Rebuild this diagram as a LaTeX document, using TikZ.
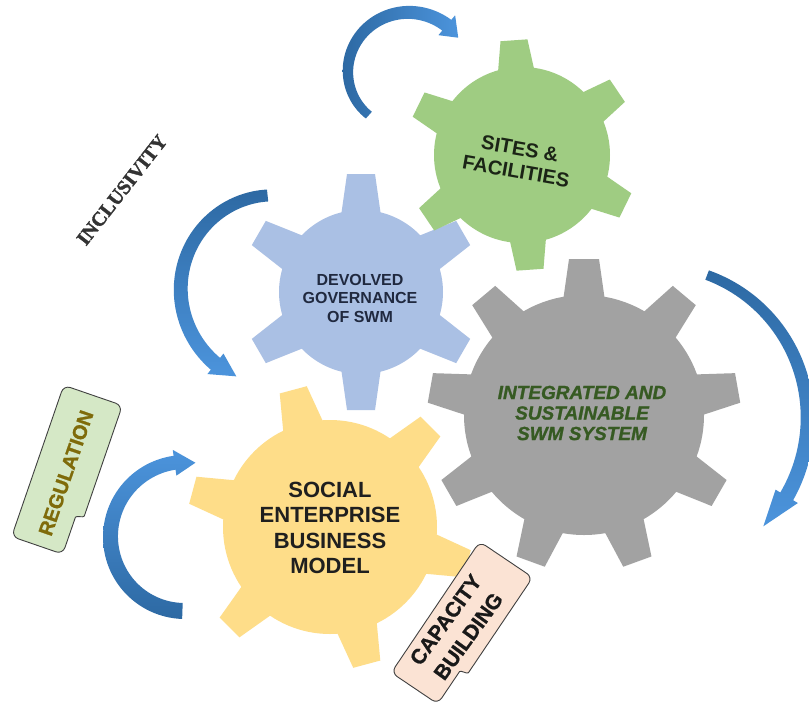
\documentclass[tikz,border=0pt]{standalone}
\usepackage{fontspec}
\setmainfont{Liberation Sans}
\newfontfamily\labelserif[FakeBold=1.6]{Liberation Serif Bold}
\newfontfamily\heavysans[FakeBold=1.0]{Liberation Sans Bold}
\newfontfamily\heavyitalic[FakeBold=1.2]{Liberation Sans Bold Italic}
\definecolor{gearGreen}{HTML}{9FCC82}
\definecolor{gearBlue}{HTML}{AAC0E4}
\definecolor{gearGray}{HTML}{A2A2A2}
\definecolor{gearGold}{HTML}{FEDD89}
\definecolor{arrowDark}{HTML}{2D69A3}
\definecolor{arrowLight}{HTML}{4C94DC}
\definecolor{txtGreen}{HTML}{365A22}
\definecolor{txtNavy}{HTML}{20293F}
\definecolor{txtDark}{HTML}{1B2416}
\definecolor{txtOlive}{HTML}{7F6B0A}
\definecolor{boxGreen}{HTML}{D5E8C6}
\definecolor{boxPeach}{HTML}{FBE3D4}

% gear: fill, cx, cy, teeth, first tooth angle, root radius, tip radius, tip width, base width
\newcommand\drawgear[9]{%
  \fill[#1] (#2,#3) circle[radius=#6];
  \foreach \k in {1,...,#4}{%
    \pgfmathsetmacro\toothang{#5+(\k-1)*360/#4}%
    \fill[#1,shift={(#2,#3)},rotate=\toothang]
      (#6-6,-#9/2) -- (#7,-#8/2) -- (#7,#8/2) -- (#6-6,#9/2) -- cycle;
  }%
}

% tapered curved arrow: shading, cx, cy, start angle, end angle,
% start radius, end radius, start width, end width (tip angle in \tipang)
\newcommand\headhw{13}
\newcommand\curvedarrow[9]{%
  \shade[#1]
    plot[domain=#4:#5, samples=60, variable=\t]
      ({#2+(#6+(#7-#6)*(\t-#4)/(#5-#4)+(#8+(#9-#8)*(\t-#4)/(#5-#4))/2)*cos(\t)},
       {#3-(#6+(#7-#6)*(\t-#4)/(#5-#4)+(#8+(#9-#8)*(\t-#4)/(#5-#4))/2)*sin(\t)})
    -- ({#2+(#7+\headhw)*cos(#5)},{#3-(#7+\headhw)*sin(#5)})
    -- ({#2+#7*cos(\tipang)},{#3-#7*sin(\tipang)})
    -- ({#2+(#7-\headhw)*cos(#5)},{#3-(#7-\headhw)*sin(#5)})
    -- plot[domain=#5:#4, samples=60, variable=\t]
      ({#2+(#6+(#7-#6)*(\t-#4)/(#5-#4)-(#8+(#9-#8)*(\t-#4)/(#5-#4))/2)*cos(\t)},
       {#3-(#6+(#7-#6)*(\t-#4)/(#5-#4)-(#8+(#9-#8)*(\t-#4)/(#5-#4))/2)*sin(\t)})
    -- cycle;
}

% label tag with a small step on its lower edge: cx, cy, angle, half length, half width, fill
\newcommand\tagbox[6]{%
  \filldraw[fill=#6, draw=black!75, line width=0.9pt, rounded corners=7pt,
            shift={(#1,#2)}, rotate=#3]
    (-#4,-#5) -- (#4,-#5) -- (#4,#5) -- (-#4+50,#5)
    .. controls (-#4+41,#5) and (-#4+41,#5-8) .. (-#4+32,#5-8)
    -- (-#4,#5-8) -- cycle;
}

\tikzset{
  gearlabel/.style={align=center, inner sep=0pt},
}

\begin{document}
\begin{tikzpicture}[x=1pt, y=-1pt]
  \fill[white] (0,0) rectangle (809,705);
  \useasboundingbox (0,0) rectangle (809,705);

  % gears
  \drawgear{gearGold}{330}{527}{6}{105}{107}{142}{28}{42}
  \drawgear{gearBlue}{361}{292}{6}{90}{82}{118}{28}{40}
  \drawgear{gearGray}{584}{415}{9}{90}{120}{156}{30}{42}
  \drawgear{gearGreen}{522}{155}{6}{94}{88}{115}{27}{37}

  % rotation arrows
  \def\tipang{35}
  \curvedarrow{left color=arrowDark, right color=arrowLight}{405}{75}{228}{50}{54}{65}{9}{14}
  \def\tipang{246}
  \curvedarrow{top color=arrowDark, bottom color=arrowLight}{277}{285}{96}{232}{90}{100}{12}{15}
  \def\tipang{82}
  \curvedarrow{bottom color=arrowDark, top color=arrowLight}{185}{537}{268}{98}{74}{75}{16}{14}
  \def\tipang{-45}
  \curvedarrow{top color=arrowDark, bottom color=arrowLight}{653}{416}{69}{-31}{151}{156}{10}{15}

  % gear labels
  \node[gearlabel, text=txtDark, rotate=-10,
        font=\bfseries\fontsize{20}{23}\selectfont] (sites) at (518,160) {SITES \&\\FACILITIES};
  \node[gearlabel, text=txtNavy,
        font=\bfseries\fontsize{16}{18.5}\selectfont] (devolved) at (360,298) {DEVOLVED\\GOVERNANCE\\OF SWM};
  \node[gearlabel, text=txtGreen,
        font=\heavyitalic\fontsize{19}{20.5}\selectfont] (system) at (582,413) {INTEGRATED AND\\SUSTAINABLE\\SWM SYSTEM};
  \node[gearlabel, text=black!88,
        font=\bfseries\fontsize{22}{25.5}\selectfont] (social) at (330,528) {SOCIAL\\ENTERPRISE\\BUSINESS\\MODEL};

  % side labels
  \node[text=black!80, rotate=52, inner sep=0pt,
        font=\labelserif\fontsize{20}{22}\selectfont] (incl) at (122,190) {INCLUSIVITY};

  \tagbox{67}{471}{71}{80}{31}{boxGreen}
  \node[text=txtOlive, rotate=71, inner sep=0pt,
        font=\heavysans\fontsize{20}{22}\selectfont] (reg) at (66,473) {REGULATION};

  \tagbox{462}{625}{56}{79}{32}{boxPeach}
  \node[gearlabel, text=black!90, rotate=54,
        font=\heavysans\fontsize{21}{28}\selectfont] (cap) at (457,628) {CAPACITY\\BUILDING};
\end{tikzpicture}
\end{document}
